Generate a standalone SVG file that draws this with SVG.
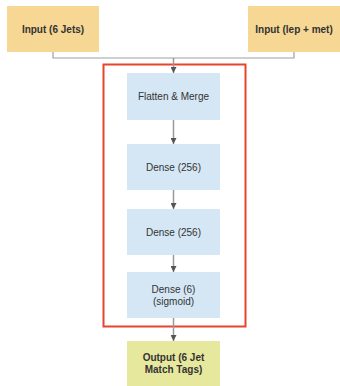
<svg xmlns="http://www.w3.org/2000/svg" width="340" height="386" viewBox="0 0 340 386">
  <defs>
    <marker id="arr" viewBox="0 0 10 10" refX="10" refY="5" markerWidth="6" markerHeight="6" orient="auto" markerUnits="userSpaceOnUse">
      <path d="M0,0 L10,5 L0,10 z" fill="#555"/>
    </marker>
    <style>
      .in { fill: #f6d794; }
      .layer { fill: #d5e7f5; }
      .out { fill: #e6e89d; }
      text { font-family: "Liberation Sans", Arial, sans-serif; font-size: 10px; fill: #333; text-anchor: middle; }
      .b { font-weight: bold; }
      .wire { fill: none; stroke: #a0a0a0; stroke-width: 1.2; }
      .flow { fill: none; stroke: #999; stroke-width: 1.5; marker-end: url(#arr); }
    </style>
  </defs>
  <rect width="340" height="386" fill="#fff"/>

  <!-- model boundary -->
  <rect x="103.5" y="64.5" width="142" height="262" fill="none" stroke="#e8432d" stroke-width="2"/>

  <g id="connectors">
    <path class="wire" d="M53,52 V58 H294 V52"/>
    <path class="flow" d="M173.5,58 V73"/>
    <path class="flow" d="M173.5,120 V144"/>
    <path class="flow" d="M173.5,190 V209"/>
    <path class="flow" d="M173.5,255 V272"/>
    <path class="flow" d="M173.5,318 V341"/>
  </g>

  <g id="input-jets">
    <rect class="in" x="7" y="6" width="92" height="46"/>
    <text class="b" x="53" y="33">Input (6 Jets)</text>
  </g>
  <g id="input-lep-met">
    <rect class="in" x="248" y="6" width="92" height="46"/>
    <text class="b" x="294" y="33">Input (lep + met)</text>
  </g>
  <g id="flatten">
    <rect class="layer" x="127" y="73" width="93" height="47"/>
    <text x="173.5" y="100">Flatten &amp; Merge</text>
  </g>
  <g id="dense1">
    <rect class="layer" x="127" y="144" width="93" height="46"/>
    <text x="173.5" y="171">Dense (256)</text>
  </g>
  <g id="dense2">
    <rect class="layer" x="127" y="209" width="93" height="46"/>
    <text x="173.5" y="236">Dense (256)</text>
  </g>
  <g id="dense3">
    <rect class="layer" x="127" y="272" width="93" height="46"/>
    <text x="173.5" y="293">Dense (6)</text>
    <text x="173.5" y="305">(sigmoid)</text>
  </g>
  <g id="output">
    <rect class="out" x="127" y="341" width="93" height="45"/>
    <text class="b" x="173.5" y="361">Output (6 Jet</text>
    <text class="b" x="173.5" y="373">Match Tags)</text>
  </g>
</svg>
